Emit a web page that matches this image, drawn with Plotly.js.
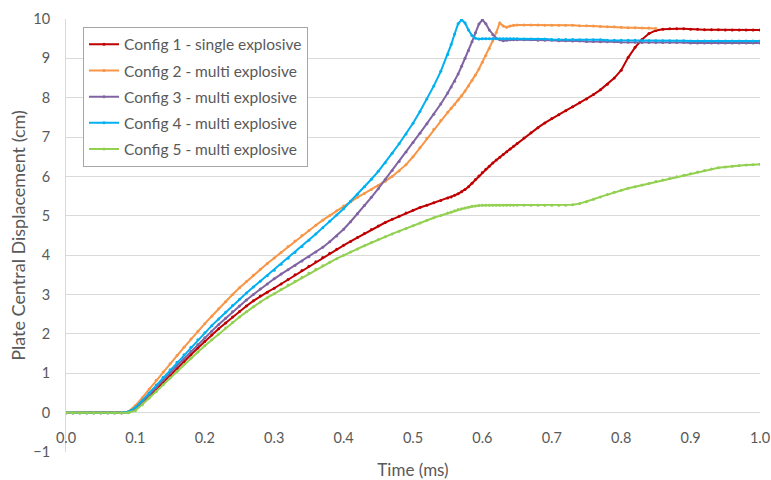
<!DOCTYPE html>
<html>
<head>
<meta charset="utf-8">
<script src="https://cdn.plot.ly/plotly-3.0.1.min.js"></script>
<style>html,body{margin:0;padding:0;background:#fff;}#chart{width:771px;height:480px;}</style>
</head>
<body>
<div id="chart"></div>
<script>
const seriesNames = ["Config 1 - single explosive","Config 2 - multi explosive","Config 3 - multi explosive","Config 4 - multi explosive","Config 5 - multi explosive"];
const xTickLabels = ["0.0","0.1","0.2","0.3","0.4","0.5","0.6","0.7","0.8","0.9","1.0"];
const xTickValues = [0,0.1,0.2,0.3,0.4,0.5,0.6,0.7,0.8,0.9,1.0];

const timeMs = [
0,0.01,0.02,0.03,0.04,0.05,0.06,0.07,0.08,0.09,
0.10,0.11,0.12,0.13,0.14,0.15,0.16,0.17,0.18,0.19,
0.20,0.21,0.22,0.23,0.24,0.25,0.26,0.27,0.28,0.29,
0.30,0.31,0.32,0.33,0.34,0.35,0.36,0.37,0.38,0.39,
0.40,0.41,0.42,0.43,0.44,0.45,0.46,0.47,0.48,0.49,
0.50,0.51,0.52,0.53,0.54,0.55,
0.555,0.56,0.565,0.57,0.575,0.58,0.585,0.59,0.595,0.60,
0.605,0.61,0.615,0.62,0.625,0.63,0.635,0.64,0.645,0.65,
0.66,0.67,0.68,0.69,
0.70,0.71,0.72,0.73,0.74,0.75,0.76,0.77,0.78,0.79,
0.80,0.81,0.82,0.83,0.84,0.85,0.86,0.87,0.88,0.89,
0.90,0.91,0.92,0.93,0.94,0.95,0.96,0.97,0.98,0.99,1.00];

const config1 = [
0,0,0,0,0,0,0,0,0,0.01,
0.08,0.24,0.41,0.59,0.77,0.95,1.13,1.3,1.47,1.64,
1.81,1.97,2.13,2.28,2.43,2.57,2.71,2.84,2.96,3.06,
3.16,3.27,3.38,3.5,3.61,3.72,3.83,3.94,4.05,4.15,
4.25,4.35,4.45,4.55,4.65,4.74,4.83,4.91,4.99,5.07,
5.14,5.21,5.27,5.33,5.39,5.45,
5.48,5.52,5.56,5.61,5.67,5.74,5.83,5.92,6.01,6.1,
6.18,6.26,6.34,6.42,6.49,6.56,6.63,6.7,6.77,6.84,
6.98,7.11,7.24,7.36,
7.47,7.57,7.67,7.77,7.87,7.97,8.08,8.2,8.34,8.5,
8.7,9.02,9.28,9.48,9.63,9.71,9.74,9.75,9.75,9.75,
9.74,9.74,9.73,9.73,9.73,9.72,9.72,9.72,9.72,9.72,9.72];

const config2 = [
0,0,0,0,0,0,0,0,0,0.03,
0.18,0.38,0.6,0.82,1.03,1.24,1.45,1.66,1.87,2.07,
2.26,2.45,2.64,2.82,3.0,3.17,3.33,3.49,3.64,3.79,
3.93,4.07,4.22,4.36,4.5,4.63,4.76,4.89,5.01,5.13,
5.25,5.36,5.47,5.57,5.67,5.77,5.88,6.0,6.14,6.3,
6.5,6.73,6.97,7.2,7.42,7.63,
7.73,7.83,7.94,8.05,8.17,8.3,8.44,8.58,8.73,8.9,
9.07,9.25,9.45,9.66,9.9,9.82,9.79,9.82,9.84,9.85,
9.85,9.85,9.85,9.84,
9.84,9.84,9.84,9.84,9.83,9.83,9.82,9.81,9.8,9.8,
9.79,9.78,9.78,9.77,9.77,9.76,null,null,null,null,
null,null,null,null,null,null,null,null,null,null,null];

const config3 = [
0,0,0,0,0,0,0,0,0,0.01,
0.1,0.27,0.45,0.64,0.83,1.01,1.19,1.37,1.55,1.73,
1.9,2.07,2.24,2.4,2.56,2.71,2.86,3.0,3.14,3.27,
3.4,3.52,3.63,3.74,3.85,3.96,4.08,4.2,4.34,4.49,
4.66,4.85,5.05,5.26,5.47,5.69,5.92,6.15,6.38,6.62,
6.86,7.1,7.34,7.58,7.84,8.12,
8.27,8.42,8.6,8.8,9.0,9.2,9.42,9.65,9.87,9.98,
9.88,9.72,9.6,9.51,9.47,9.45,9.46,9.47,9.47,9.47,
9.47,9.47,9.46,9.46,
9.46,9.45,9.45,9.44,9.44,9.43,9.43,9.42,9.42,9.42,
9.41,9.41,9.41,9.4,9.4,9.4,9.4,9.4,9.4,9.4,
9.39,9.39,9.39,9.39,9.39,9.39,9.39,9.39,9.39,9.39,9.39];

const config4 = [
0,0,0,0,0,0,0,0,0,0.02,
0.13,0.31,0.5,0.7,0.9,1.09,1.28,1.47,1.66,1.85,
2.03,2.21,2.38,2.55,2.72,2.88,3.04,3.19,3.34,3.48,
3.62,3.77,3.92,4.07,4.22,4.38,4.54,4.7,4.86,5.02,
5.18,5.37,5.55,5.74,5.93,6.13,6.35,6.59,6.83,7.08,
7.35,7.65,7.97,8.3,8.67,9.1,
9.35,9.62,9.88,9.98,9.9,9.72,9.58,9.51,9.49,9.5,
9.5,9.5,9.5,9.5,9.5,9.5,9.5,9.5,9.5,9.5,
9.49,9.49,9.49,9.49,
9.48,9.48,9.48,9.48,9.47,9.47,9.47,9.47,9.46,9.46,
9.46,9.46,9.46,9.45,9.45,9.45,9.45,9.45,9.45,9.45,
9.44,9.44,9.44,9.44,9.44,9.44,9.44,9.44,9.44,9.44,9.44];

const config5 = [
0,0,0,0,0,0,0,0,0,0,
0.05,0.2,0.37,0.54,0.71,0.88,1.05,1.22,1.38,1.54,
1.7,1.85,2.0,2.15,2.29,2.43,2.56,2.69,2.81,2.92,
3.02,3.13,3.24,3.34,3.44,3.54,3.64,3.73,3.82,3.91,
4.0,4.08,4.16,4.24,4.32,4.4,4.47,4.54,4.61,4.68,
4.75,4.82,4.89,4.95,5.01,5.07,
5.1,5.13,5.16,5.18,5.2,5.22,5.24,5.25,5.26,5.27,
5.27,5.27,5.27,5.27,5.27,5.27,5.27,5.27,5.27,5.27,
5.27,5.27,5.27,5.27,
5.27,5.27,5.27,5.28,5.31,5.36,5.42,5.48,5.54,5.6,
5.65,5.7,5.74,5.78,5.82,5.87,5.91,5.95,5.99,6.03,
6.07,6.11,6.15,6.19,6.22,6.24,6.26,6.28,6.29,6.3,6.31];

const seriesValues = [config1, config2, config3, config4, config5];
const seriesColors = ["#C00000","#F79646","#8064A2","#00B0F0","#92D050"];

const FONT = "Lato, 'Open Sans', sans-serif";
const TXT = "#595959";

const traces = seriesValues.map((vals, i) => ({
  type: "scatter",
  mode: "lines+markers",
  name: seriesNames[i],
  legendgroup: "g" + i,
  x: timeMs,
  y: vals,
  connectgaps: false,
  line: {color: seriesColors[i], width: 2},
  marker: {color: seriesColors[i], size: 3, symbol: "circle"}
}));

const layout = {
  width: 771,
  height: 480,
  margin: {l: 66, r: 11, t: 19, b: 28, pad: 0},
  paper_bgcolor: "#ffffff",
  plot_bgcolor: "#ffffff",
  font: {family: FONT, color: TXT, size: 14},
  showlegend: true,
  legend: {
    x: 0.0245, y: 0.982, xanchor: "left", yanchor: "top",
    bgcolor: "#ffffff", bordercolor: "#a6a6a6", borderwidth: 1,
    font: {family: FONT, size: 15.5, color: TXT},
    tracegroupgap: 3,
    itemwidth: 30,
    traceorder: "grouped"
  },
  xaxis: {
    range: [0, 1],
    tickmode: "array",
    tickvals: xTickValues,
    ticktext: xTickLabels,
    showgrid: false,
    zeroline: false,
    showline: false,
    ticks: "",
    ticklabelposition: "inside",
    ticklabeloverflow: "allow",
    ticklabelstandoff: 3,
    tickfont: {family: FONT, size: 14.5, color: TXT},
    title: {text: "Time (ms)", font: {family: FONT, size: 17, color: TXT}, standoff: 20}
  },
  yaxis: {
    range: [-1, 10],
    dtick: 1,
    tick0: 0,
    showgrid: true,
    gridcolor: "#d9d9d9",
    gridwidth: 1,
    zeroline: false,
    showline: true,
    linecolor: "#d9d9d9",
    linewidth: 1,
    ticks: "",
    ticklabelstandoff: 12,
    tickfont: {family: FONT, size: 14.5, color: TXT},
    title: {text: "Plate Central Displacement (cm)", font: {family: FONT, size: 18, color: TXT}, standoff: 2}
  }
};

Plotly.newPlot("chart", traces, layout, {displayModeBar: false, staticPlot: true});
</script>
</body>
</html>
